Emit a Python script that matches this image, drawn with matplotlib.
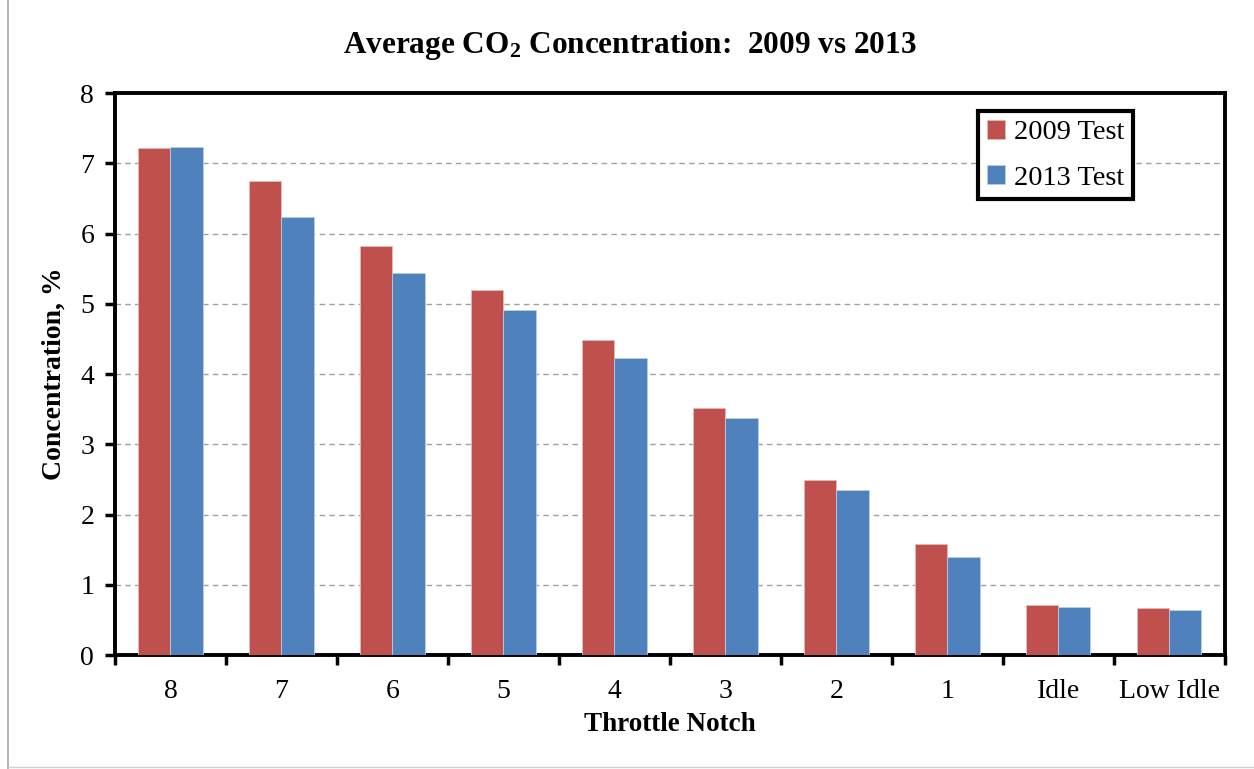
import matplotlib.pyplot as plt
import matplotlib.lines as mlines
import numpy as np

plt.rcParams['font.family'] = ['Liberation Serif', 'DejaVu Serif']
plt.rcParams['mathtext.fontset'] = 'custom'
plt.rcParams['mathtext.rm'] = 'Liberation Serif:bold'
plt.rcParams['mathtext.it'] = 'Liberation Serif:bold'

# CO2 concentration by throttle notch
notches = ['8', '7', '6', '5', '4', '3', '2', '1', 'Idle', 'Low Idle']
test_2009 = [7.22, 6.75, 5.82, 5.20, 4.48, 3.52, 2.49, 1.58, 0.71, 0.67]
test_2013 = [7.23, 6.23, 5.44, 4.91, 4.23, 3.37, 2.35, 1.40, 0.69, 0.65]

red = '#C0504D'
blue = '#4F81BD'

fig = plt.figure(figsize=(12.54, 7.69), dpi=100)
ax = fig.add_axes([0.0917, 0.148, 0.885, 0.731])

x = np.arange(len(notches))
w = 0.29
ax.bar(x - w / 2, test_2009, w, color=red, edgecolor='#E6B9B8', linewidth=0.6,
       label='2009 Test', zorder=3)
ax.bar(x + w / 2, test_2013, w, color=blue, edgecolor='#B9CDE5', linewidth=0.6,
       label='2013 Test', zorder=3)

ax.set_xlim(-0.5, len(notches) - 0.5)
ax.set_ylim(0, 8)
ax.set_yticks(range(0, 9))
ax.yaxis.grid(True, linestyle=(0, (4, 3)), color='#A0A0A0', linewidth=1.0, zorder=0)

# category boundaries carry the x tick marks
ax.set_xticks(np.arange(-0.5, len(notches)), minor=False)
ax.set_xticklabels([])
ax.set_xticks(x, minor=True)
ax.set_xticklabels(notches, minor=True, fontsize=20)
ax.tick_params(axis='x', which='major', direction='out', length=7, width=2.5)
ax.tick_params(axis='x', which='minor', length=0, pad=17)
ax.tick_params(axis='y', direction='out', length=7, width=2.5, labelsize=20, pad=8)

for s in ax.spines.values():
    s.set_linewidth(2.8)
    s.set_color('black')

fig.text(630 / 1254, 1 - 45 / 769, r'Average CO$_2$ Concentration:  2009 vs 2013',
         fontsize=22.5, fontweight='bold', ha='center', va='center')
ax.set_xlabel('Throttle Notch', fontsize=19.5, fontweight='bold', labelpad=6)
ax.set_ylabel('Concentration, %', fontsize=20, fontweight='bold', labelpad=10)

leg = ax.legend(loc='upper right', bbox_to_anchor=(0.917, 0.968), fontsize=20.5,
                frameon=True, fancybox=False, handlelength=0.65, handleheight=0.65,
                handletextpad=0.3, borderpad=0.3, labelspacing=0.7, borderaxespad=0)
leg.get_frame().set_edgecolor('black')
leg.get_frame().set_linewidth(3)
leg.get_frame().set_alpha(1)

# thin outer chart frame
fig.add_artist(mlines.Line2D([0.0065, 0.0065], [0, 1], color='#A6A6A6', linewidth=1.2))
fig.add_artist(mlines.Line2D([0.0065, 1], [0.003, 0.003], color='#D0D0D0', linewidth=1))

fig.savefig('out.png', dpi=100)
